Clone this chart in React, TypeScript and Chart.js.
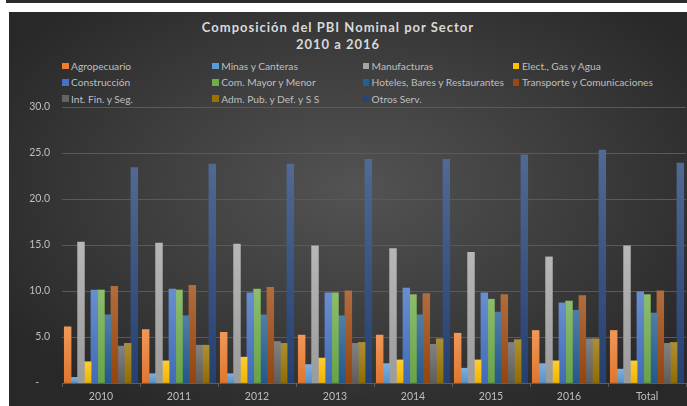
import React, { useEffect, useRef } from "react";
import { Chart, registerables } from "chart.js";

Chart.register(...registerables);

const categories = ["2010", "2011", "2012", "2013", "2014", "2015", "2016", "Total"];

const seriesNames = [
  "Agropecuario",
  "Minas y Canteras",
  "Manufacturas",
  "Elect., Gas y Agua",
  "Construcción",
  "Com. Mayor y Menor",
  "Hoteles, Bares y Restaurantes",
  "Transporte y Comunicaciones",
  "Int. Fin. y Seg.",
  "Adm. Pub. y Def. y S S",
  "Otros Serv.",
];

const agropecuario = [6.1, 5.8, 5.5, 5.2, 5.2, 5.4, 5.7, 5.7];
const minas = [0.6, 1.0, 1.0, 2.0, 2.1, 1.6, 2.1, 1.5];
const manufacturas = [15.3, 15.2, 15.1, 14.9, 14.6, 14.2, 13.7, 14.9];
const electricidad = [2.3, 2.4, 2.8, 2.7, 2.5, 2.5, 2.4, 2.4];
const construccion = [10.1, 10.2, 9.8, 9.8, 10.3, 9.8, 8.7, 9.9];
const comercio = [10.1, 10.1, 10.2, 9.8, 9.6, 9.1, 8.9, 9.6];
const hoteles = [7.4, 7.3, 7.4, 7.3, 7.4, 7.7, 7.9, 7.6];
const transporte = [10.5, 10.6, 10.4, 10.0, 9.7, 9.6, 9.5, 10.0];
const intFin = [4.0, 4.1, 4.5, 4.3, 4.2, 4.4, 4.8, 4.3];
const admPub = [4.3, 4.1, 4.3, 4.4, 4.8, 4.7, 4.8, 4.4];
const otros = [23.4, 23.8, 23.8, 24.3, 24.3, 24.8, 25.3, 23.9];

const seriesValues = [
  agropecuario, minas, manufacturas, electricidad, construccion, comercio,
  hoteles, transporte, intFin, admPub, otros,
];

const yTicks = [0, 5, 10, 15, 20, 25, 30];

const colors = [
  "#ED7D31", "#5B9BD5", "#A5A5A5", "#FFC000", "#4472C4", "#70AD47",
  "#255E91", "#9E480E", "#636363", "#997300", "#264478",
];

function mix(hex: string, target: number, t: number) {
  const n = parseInt(hex.slice(1), 16);
  const r = (n >> 16) & 255, g = (n >> 8) & 255, b = n & 255;
  const f = (c: number) => Math.round(c + (target - c) * t);
  return `rgb(${f(r)},${f(g)},${f(b)})`;
}

export default function App() {
  const ref = useRef<HTMLCanvasElement | null>(null);

  useEffect(() => {
    if (!ref.current) return;
    const font = "Lato, 'Open Sans', sans-serif";
    const chart = new Chart(ref.current, {
      type: "bar",
      data: {
        labels: categories,
        datasets: seriesNames.map((name, i) => ({
          label: name,
          data: seriesValues[i],
          categoryPercentage: 0.94,
          barPercentage: 1.0,
          borderWidth: 0,
          inflateAmount: 0.4,
          backgroundColor: (ctx: any) => {
            const base = colors[i];
            const c = ctx.chart;
            const y = c.scales && c.scales.y;
            if (ctx.type !== "data" || !y || !c.chartArea) return base;
            const v = ctx.parsed ? ctx.parsed.y : ctx.raw;
            const top = y.getPixelForValue(v);
            const bottom = y.getPixelForValue(0);
            if (!isFinite(top) || !isFinite(bottom) || bottom - top < 1) return base;
            const g = c.ctx.createLinearGradient(0, top, 0, bottom);
            g.addColorStop(0, mix(base, 255, 0.2));
            g.addColorStop(1, mix(base, 0, 0.06));
            return g;
          },
        })),
      },
      options: {
        responsive: false,
        animation: false,
        devicePixelRatio: 1,
        events: [],
        layout: { padding: { top: 107, left: 0, right: 1, bottom: 0 } },
        plugins: {
          legend: { display: false },
          title: { display: false },
          tooltip: { enabled: false },
        },
        scales: {
          x: {
            afterFit: (s: any) => { s.height = 23; },
            grid: {
              display: true,
              offset: true,
              drawOnChartArea: false,
              drawTicks: true,
              tickLength: 4,
              color: "#5e5e5e",
            },
            border: { display: true, color: "#5e5e5e" },
            ticks: { color: "#bfbfbf", font: { family: font, size: 10.5 }, padding: 3 },
          },
          y: {
            min: 0,
            max: 30,
            afterFit: (s: any) => { s.width = 62; },
            afterBuildTicks: (s: any) => { s.ticks = yTicks.map((v) => ({ value: v })); },
            grid: { color: "#5a5a5a", drawTicks: false },
            border: { display: false },
            ticks: {
              color: "#bfbfbf",
              font: { family: font, size: 10.5 },
              padding: 12,
              callback: (v: any) => (Number(v) === 0 ? "-    " : Number(v).toFixed(1)),
            },
          },
        },
      },
    });
    return () => chart.destroy();
  }, []);

  const legendFont = "Lato, 'Open Sans', sans-serif";

  return (
    <div style={{ position: "absolute", left: 0, top: 0, width: 687, height: 406, overflow: "hidden", background: "#ffffff" }}>
      <div style={{ position: "absolute", left: 6, top: 0, width: 681, height: 3, background: "#2b2b2b" }} />
      <div
        style={{
          position: "absolute",
          left: 9,
          top: 12,
          width: 690,
          height: 394,
          background: "radial-gradient(ellipse 60% 65% at 50% 45%, #535353 0%, #3c3c3c 55%, #282828 100%)",
        }}
      />
      <div
        style={{
          position: "absolute",
          left: 0,
          top: 19,
          width: 676,
          textAlign: "center",
          fontFamily: legendFont,
          fontWeight: 700,
          fontSize: 13,
          letterSpacing: 1,
          lineHeight: "16.5px",
          color: "#d9d9d9",
        }}
      >
        <div>Composición del PBI Nominal por Sector</div>
        <div>2010 a 2016</div>
      </div>
      {seriesNames.map((name, i) => {
        const row = Math.floor(i / 4);
        const col = i % 4;
        return (
          <div
            key={name}
            style={{
              position: "absolute",
              left: 62 + col * 150.3,
              top: 66 + row * 16.3 - 7,
              height: 14,
              display: "flex",
              alignItems: "center",
              whiteSpace: "nowrap",
              fontFamily: legendFont,
              fontSize: 10.2,
              color: "#bfbfbf",
            }}
          >
            <span style={{ display: "inline-block", width: 6.5, height: 6.5, background: colors[i], marginRight: 2.5 }} />
            <span>{name}</span>
          </div>
        );
      })}
      <canvas ref={ref} width={687} height={406} style={{ position: "absolute", left: 0, top: 0, width: 687, height: 406 }} />
    </div>
  );
}
